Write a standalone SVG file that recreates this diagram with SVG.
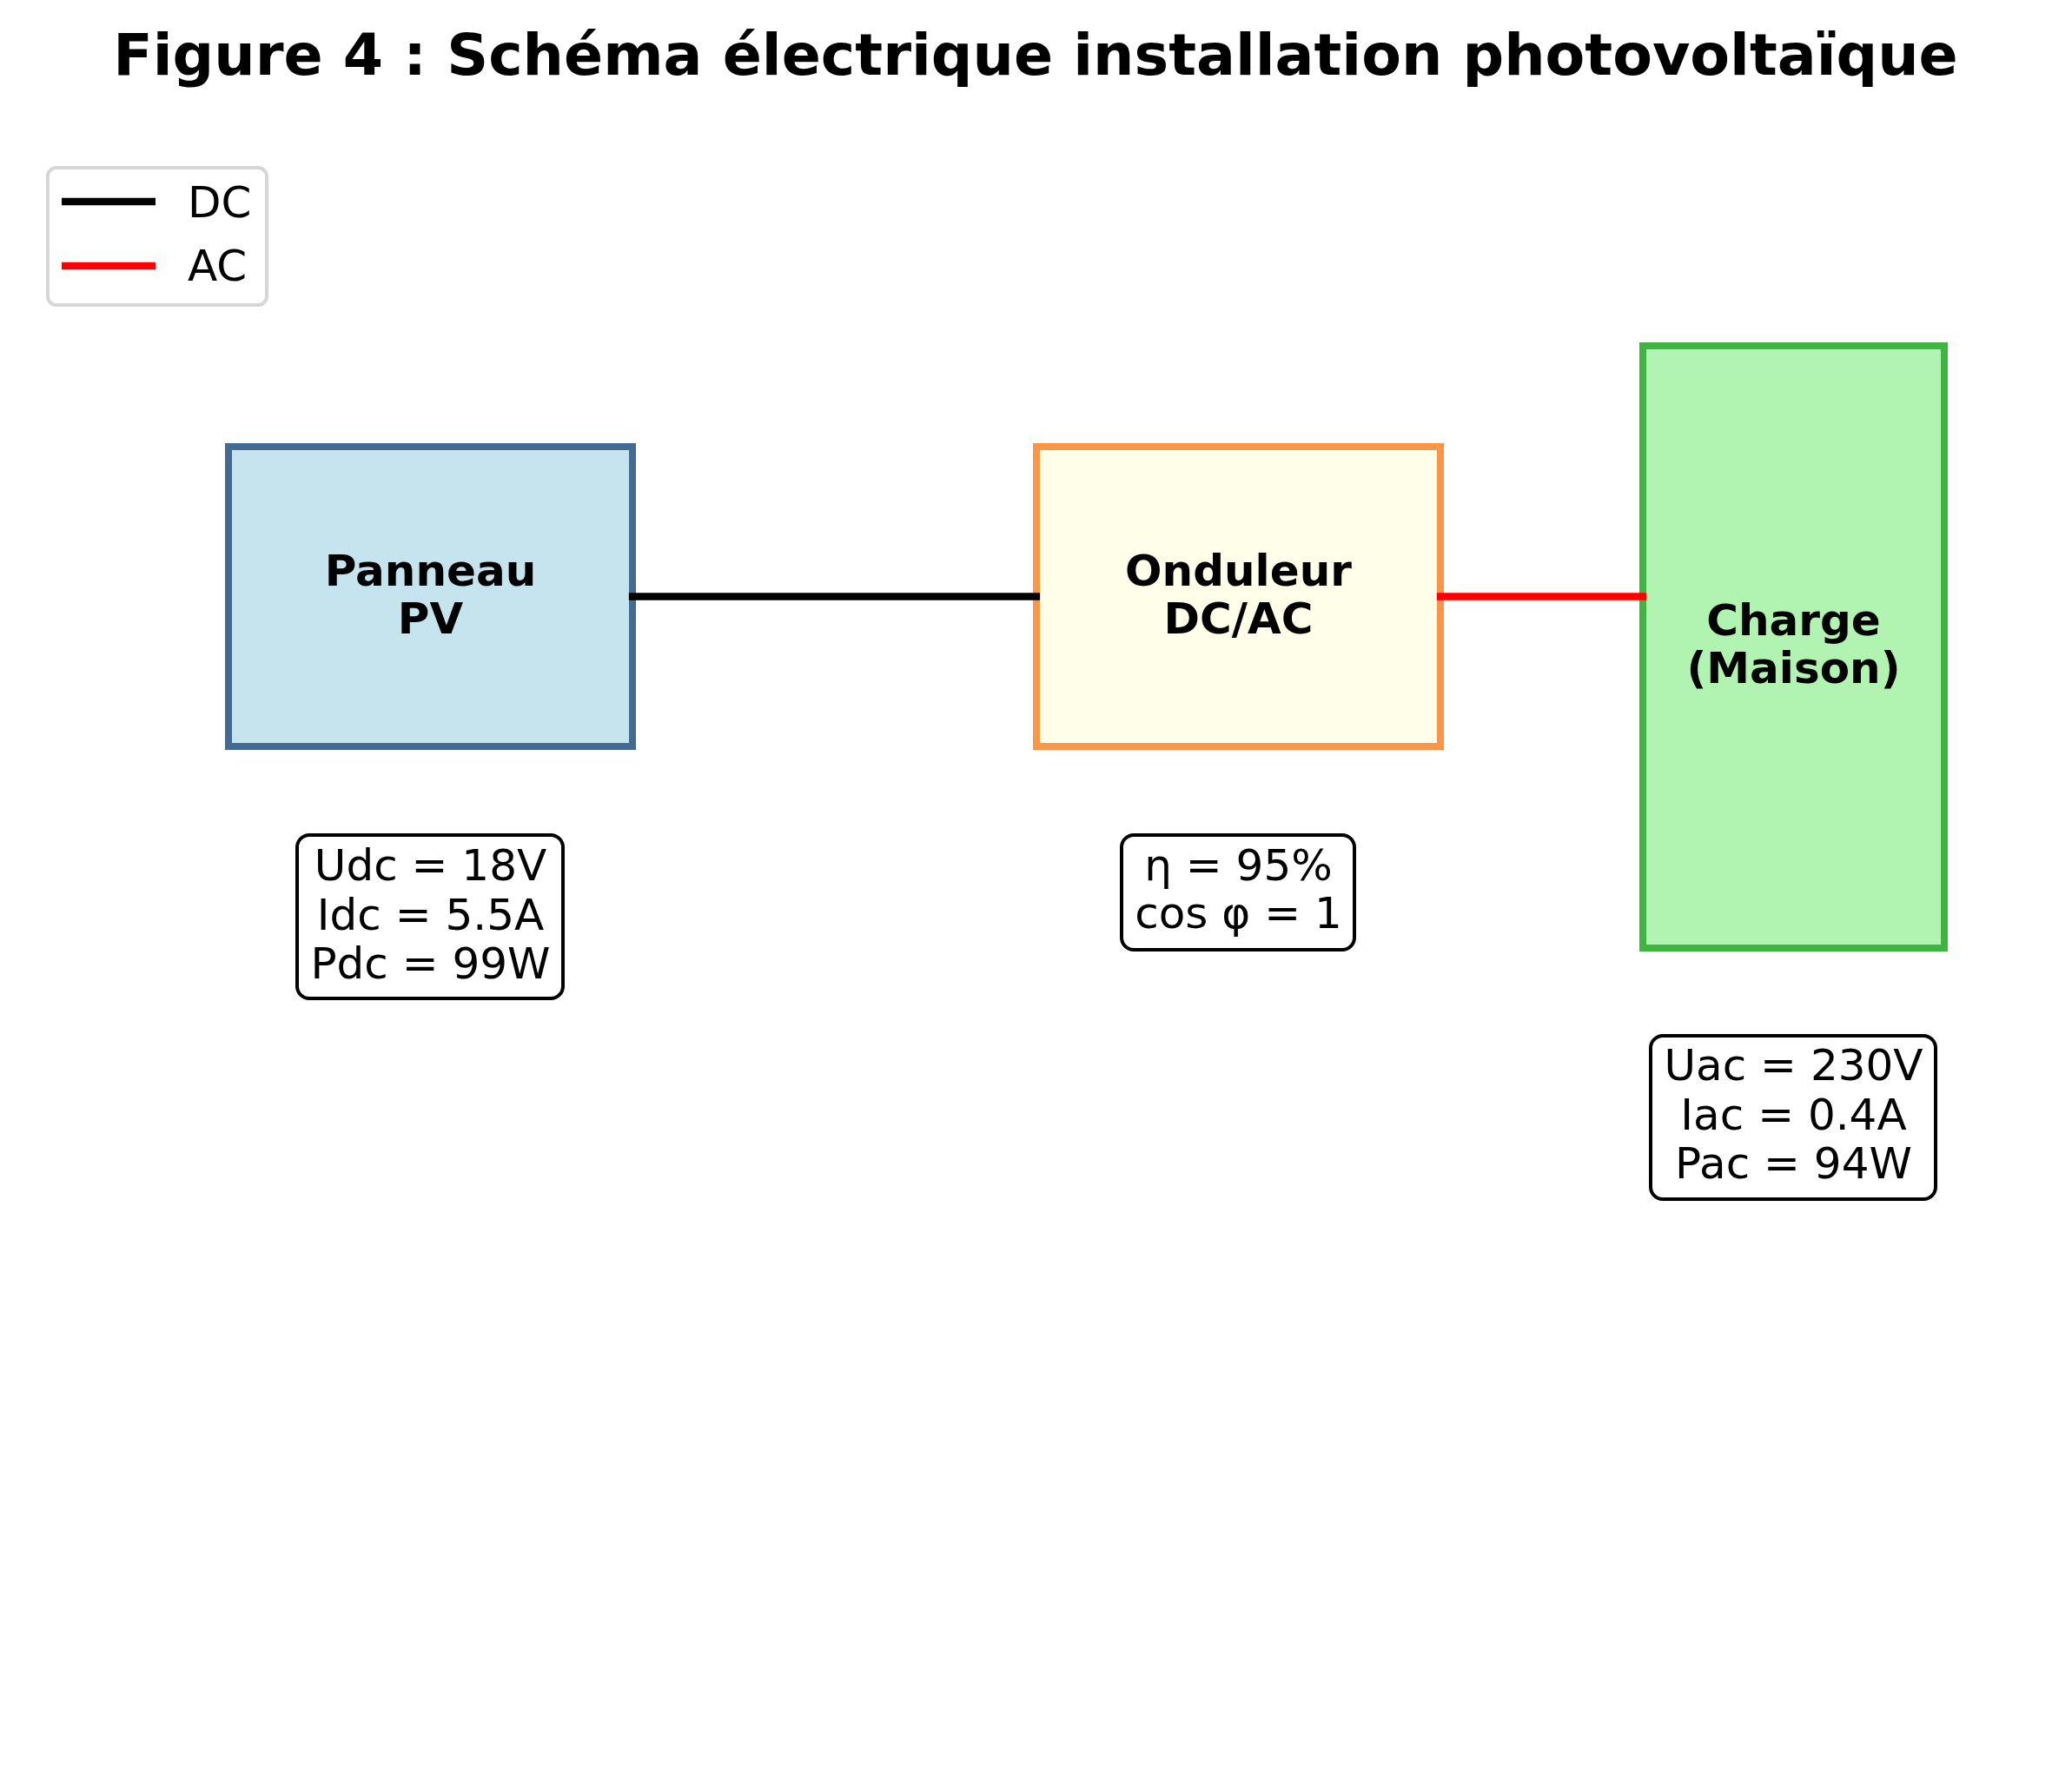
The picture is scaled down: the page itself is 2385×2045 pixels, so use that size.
<svg xmlns="http://www.w3.org/2000/svg" width="2385" height="2045" viewBox="0 0 2385 2045">
<style>
text{font-family:"DejaVu Sans","Liberation Sans",sans-serif;fill:#000}
.title{font-size:66.6px;font-weight:bold;text-anchor:middle}
.lbl{font-size:50px;font-weight:bold;text-anchor:middle}
.info{font-size:50px;text-anchor:middle}
.leg{font-size:50px}
.ibox{fill:#fff;stroke:#000;stroke-width:4}
.wire{stroke-width:8.3;stroke-linecap:square;fill:none}
</style>
<rect width="2385" height="2045" fill="#fff"/>
<text class="title" x="1192" y="86">Figure 4 : Schéma électrique installation photovoltaïque</text>
<g id="legend">
<rect x="55" y="193" width="252" height="158" rx="10" fill="#fff" stroke="#d6d6d6" stroke-width="4"/>
<line x1="71" y1="232" x2="179" y2="232" stroke="#000" stroke-width="8.3"/>
<line x1="71" y1="306" x2="179" y2="306" stroke="#ff0000" stroke-width="8.3"/>
<text class="leg" x="216" y="250">DC</text>
<text class="leg" x="216" y="323">AC</text>
</g>
<g id="panneau">
<rect x="263" y="514" width="465" height="345" fill="#c6e4ee" stroke="#426a92" stroke-width="8"/>
<text class="lbl" x="495.5" y="674">Panneau</text>
<text class="lbl" x="495.5" y="729">PV</text>
</g>
<g id="onduleur">
<rect x="1193" y="514" width="465" height="345" fill="#fffee9" stroke="#fd9548" stroke-width="8"/>
<text class="lbl" x="1425.5" y="674">Onduleur</text>
<text class="lbl" x="1425.5" y="729">DC/AC</text>
</g>
<g id="charge">
<rect x="1891" y="398" width="347" height="693" fill="#b1f3b1" stroke="#40b440" stroke-width="8"/>
<text class="lbl" x="2064.5" y="731">Charge</text>
<text class="lbl" x="2064.5" y="786">(Maison)</text>
</g>
<g id="info-panneau">
<rect class="ibox" x="342" y="961" width="306" height="188" rx="14"/>
<text class="info" x="495.5" y="1013">Udc = 18V</text>
<text class="info" x="495.5" y="1070">Idc = 5.5A</text>
<text class="info" x="495.5" y="1126">Pdc = 99W</text>
</g>
<g id="info-onduleur">
<rect class="ibox" x="1291" y="961" width="268" height="132" rx="14"/>
<text class="info" x="1425.5" y="1013">η = 95%</text>
<text class="info" x="1425.5" y="1068">cos φ = 1</text>
</g>
<g id="info-charge">
<rect class="ibox" x="1900" y="1192" width="328" height="188" rx="14"/>
<text class="info" x="2064.5" y="1243">Uac = 230V</text>
<text class="info" x="2064.5" y="1300">Iac = 0.4A</text>
<text class="info" x="2064.5" y="1356">Pac = 94W</text>
</g>
<g id="connectors">
<line class="wire" x1="728" y1="686.5" x2="1193" y2="686.5" stroke="#000"/>
<line class="wire" x1="1658" y1="686.5" x2="1891" y2="686.5" stroke="#ff0000"/>
</g>
</svg>
